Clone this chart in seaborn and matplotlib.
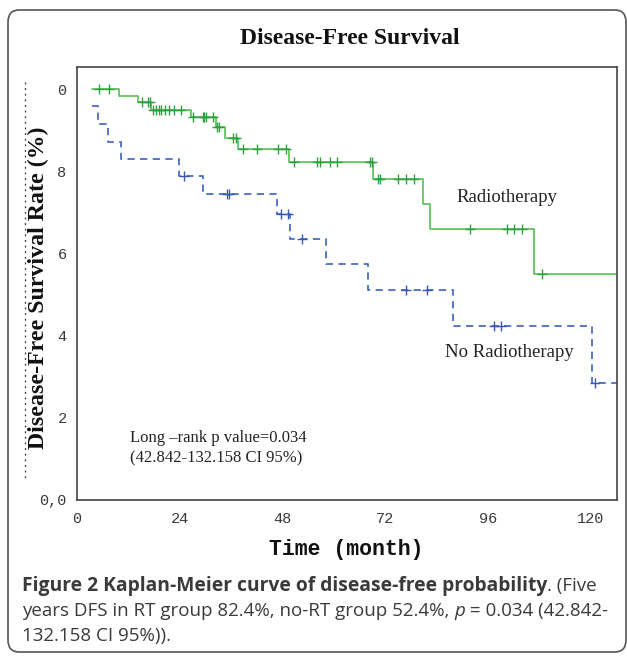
import matplotlib
matplotlib.use("Agg")
import matplotlib.pyplot as plt
import seaborn as sns
import pandas as pd
import numpy as np
from matplotlib.patches import FancyBboxPatch
from matplotlib.lines import Line2D

# ---------------- data ----------------
rt_step_times = [3.5, 9.9, 14.4, 17.3, 26.6, 32.5, 34.6, 37.7, 49.6, 69.1, 80.8, 82.5, 106.8]
rt_step_surv = [1.0, 0.985, 0.969, 0.951, 0.932, 0.909, 0.883, 0.856, 0.823, 0.781, 0.720, 0.659, 0.551]
rt_censor_times = [5.2, 7.5, 15.2, 16.7, 17.1, 17.9, 18.5, 19.1, 19.7, 20.5, 21.5, 22.6, 24.4,
                   27.2, 29.4, 29.8, 30.2, 31.9, 32.7, 33.2, 36.6, 37.2, 38.8, 42.0, 47.1, 48.8,
                   50.8, 56.0, 56.8, 59.1, 60.8, 68.5, 68.9, 70.3, 70.7, 74.9, 76.9, 78.8,
                   91.7, 100.5, 102.1, 103.9, 108.6]

nort_step_times = [3.5, 4.9, 7.2, 10.3, 23.9, 29.4, 46.8, 49.8, 58.2, 68.1, 87.8, 120.4]
nort_step_surv = [0.959, 0.917, 0.872, 0.830, 0.789, 0.745, 0.696, 0.636, 0.575, 0.511, 0.425, 0.286]
nort_censor_times = [25.1, 35.0, 35.6, 47.7, 49.4, 52.6, 76.9, 81.7, 97.3, 99.0, 121.0]

followup_end = 126.2

x_ticks = [0, 24, 48, 72, 96, 120]
x_tick_labels = ["0", "24", "48", "72", "96", "120"]
y_ticks = [0.0, 0.2, 0.4, 0.6, 0.8, 1.0]
y_tick_labels = ["0,0", "2", "4", "6", "8", "0"]

group_labels = ["Radiotherapy", "No Radiotherapy"]
title_text = "Disease-Free Survival"
ylabel_text = "Disease-Free Survival Rate (%)"
xlabel_text = "Time (month)"
stat_lines = ["Long \u2013rank p value=0.034", "(42.842-132.158 CI 95%)"]


def step_frame(times, surv, end):
    return pd.DataFrame({"time": list(times) + [end], "surv": list(surv) + [surv[-1]]})


def censor_frame(times, step_t, step_s):
    idx = np.searchsorted(np.array(step_t), np.array(times), side="right") - 1
    return pd.DataFrame({"time": times, "surv": np.array(step_s)[idx]})


rt_df = step_frame(rt_step_times, rt_step_surv, followup_end)
nort_df = step_frame(nort_step_times, nort_step_surv, followup_end)
rt_cens = censor_frame(rt_censor_times, rt_step_times, rt_step_surv)
nort_cens = censor_frame(nort_censor_times, nort_step_times, nort_step_surv)

# ---------------- figure ----------------
sns.set_style("white")
plt.rcParams["font.family"] = ["DejaVu Sans"]

W, H = 627, 657
fig = plt.figure(figsize=(W / 100, H / 100), dpi=100)
fig.patch.set_facecolor("white")

# outer rounded frame
frame = FancyBboxPatch((8 / W, 1 - 652 / H), (626 - 8) / W, (652 - 10) / H,
                       boxstyle="round,pad=0,rounding_size=0.018",
                       transform=fig.transFigure, facecolor="none",
                       edgecolor="#555555", linewidth=1.2)
fig.patches.append(frame)

ax_l, ax_r, ax_t, ax_b = 76.7, 617.3, 67.3, 500.0
ax = fig.add_axes([ax_l / W, 1 - ax_b / H, (ax_r - ax_l) / W, (ax_b - ax_t) / H])

green_line = "#62c462"
green_mark = "#2f9e3f"
blue_line = "#4a6cc4"
blue_mark = "#3a58b0"

sns.lineplot(data=rt_df, x="time", y="surv", ax=ax, estimator=None, sort=False,
             drawstyle="steps-post", color=green_line, linewidth=1.3, legend=False)
sns.lineplot(data=nort_df, x="time", y="surv", ax=ax, estimator=None, sort=False,
             drawstyle="steps-post", color=blue_line, linewidth=1.3,
             linestyle=(0, (4, 3)), legend=False)
sns.scatterplot(data=rt_cens, x="time", y="surv", ax=ax, marker="+", s=45,
                color=green_mark, linewidth=1.0, legend=False, zorder=3)
sns.scatterplot(data=nort_cens, x="time", y="surv", ax=ax, marker="+", s=45,
                color=blue_mark, linewidth=1.0, legend=False, zorder=3)

ax.set_xlim(0, followup_end)
ax.set_ylim(0, 1.054)
ax.set_xticks(x_ticks)
ax.set_xticklabels(x_tick_labels, family="Liberation Mono", fontsize=11, color="#3a3a3a")
ax.set_yticks(y_ticks)
ax.set_yticklabels(y_tick_labels, family="Liberation Mono", fontsize=11, color="#3a3a3a")
ax.tick_params(axis="x", direction="out", length=4.3, width=1.0, color="#333333", pad=4)
ax.tick_params(axis="y", direction="out", length=5.8, width=1.0, color="#333333", pad=1.5)
ax.set_xlabel("")
ax.set_ylabel("")
for side in ["left", "bottom", "right", "top"]:
    ax.spines[side].set_visible(True)
    ax.spines[side].set_color("#444444")
    ax.spines[side].set_linewidth(1.2)

# curve labels and statistics
ax.text(100.5, 0.737, group_labels[0], family="Liberation Serif", fontsize=13.5,
        color="#222222", ha="center", va="center")
ax.text(100.9, 0.360, group_labels[1], family="Liberation Serif", fontsize=13.5,
        color="#222222", ha="center", va="center")
ax.text(12.5, 0.152, stat_lines[0], family="Liberation Serif", fontsize=12,
        color="#222222", ha="left", va="center")
ax.text(12.5, 0.101, stat_lines[1], family="Liberation Serif", fontsize=12,
        color="#222222", ha="left", va="center")

# titles
fig.text(350 / W, 1 - 38 / H, title_text, family="Liberation Serif", fontweight="bold",
         fontsize=17, ha="center", va="center", color="#111111")
fig.text(38 / W, 1 - 287.5 / H, ylabel_text, family="Liberation Serif", fontweight="bold",
         fontsize=17.2, rotation=90, ha="center", va="center", color="#111111")
fig.text(346 / W, 1 - 550 / H, xlabel_text, family="Liberation Mono", fontweight="bold",
         fontsize=15.5, ha="center", va="center", color="#111111")

# dotted guide line left of the y label
fig.add_artist(Line2D([25 / W, 25 / W], [1 - 82 / H, 1 - 480 / H], transform=fig.transFigure,
                      color="#333333", linewidth=0.9, linestyle=(0, (1.5, 3))))

# caption (mixed styles)
renderer = fig.canvas.get_renderer()
cap_font = "Open Sans"
cap_color = "#3a3a3a"
caption_lines = [
    [("Figure 2 Kaplan-Meier curve of disease-free probability", "bold", "normal"),
     (". (Five", "normal", "normal")],
    [("years DFS in RT group 82.4%, no-RT group 52.4%, ", "normal", "normal"),
     ("p", "normal", "italic"),
     (" = 0.034 (42.842-", "normal", "normal")],
    [("132.158 CI 95%)).", "normal", "normal")],
]
line_y = [586, 611, 636]
for pieces, yy in zip(caption_lines, line_y):
    x_px = 22.0
    for txt, weight, style in pieces:
        size = 13.9 if weight == "bold" else 13.5
        t = fig.text(x_px / W, 1 - yy / H, txt, family=cap_font, fontsize=size,
                     fontweight=weight, fontstyle=style, color=cap_color,
                     ha="left", va="center")
        bb = t.get_window_extent(renderer=renderer)
        x_px += bb.width

fig.savefig("out.png", dpi=100, facecolor="white")
